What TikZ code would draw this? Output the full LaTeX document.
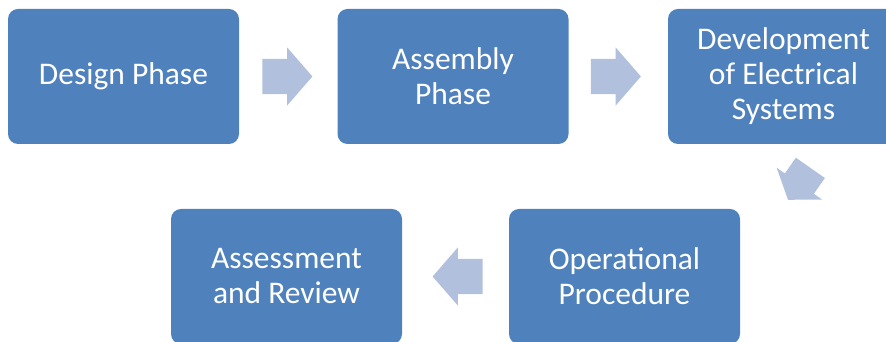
\documentclass[tikz,border=0pt]{standalone}
\usepackage{fontspec}
\setmainfont{Carlito}
\usetikzlibrary{shapes.arrows, positioning, calc}
\definecolor{phaseblue}{RGB}{79,129,189}
\definecolor{flowblue}{RGB}{177,192,220}

\begin{document}
\begin{tikzpicture}[x=1pt, y=1pt, every node/.style={font=\fontsize{31.5}{35}\selectfont}]
    \tikzset{
        phase/.style={draw=none, rectangle, rounded corners=10pt, fill=phaseblue, text=white,
            minimum width=231pt, minimum height=135pt, inner sep=0pt, align=center},
        flow/.style={single arrow, fill=flowblue, draw=none, inner xsep=0pt, inner ysep=17.5pt,
            minimum height=50pt, single arrow head extend=11.5pt,
            single arrow tip angle=98, anchor=tail}
    }
    \useasboundingbox (0,0) rectangle (886,342);
    % top row
    \node[phase] (design) at (123.5,265.5) {Design Phase};
    \node[phase] (assembly) at (453,265.5) {Assembly\\Phase};
    \node[phase] (develop) at (783.5,265.5) {Development\\of Electrical\\Systems};
    % bottom row
    \node[phase] (operation) at (624.5,65.5) {Operational\\Procedure};
    \node[phase] (review) at (286.5,65.5) {Assessment\\and Review};
    % arrows between phases
    \node[flow] (a1) at ($(design.east)+(23,0)$) {};
    \node[flow] (a2) at ($(assembly.east)+(22,0)$) {};
    \node[flow, minimum height=39pt, single arrow head extend=10pt,
        single arrow tip angle=109, rotate=235] (a3) at ($(develop.south)+(27,-23.5)$) {};
    \node[flow, shape border rotate=180] (a4) at ($(operation.west)+(-26,0)$) {};
\end{tikzpicture}
\end{document}
